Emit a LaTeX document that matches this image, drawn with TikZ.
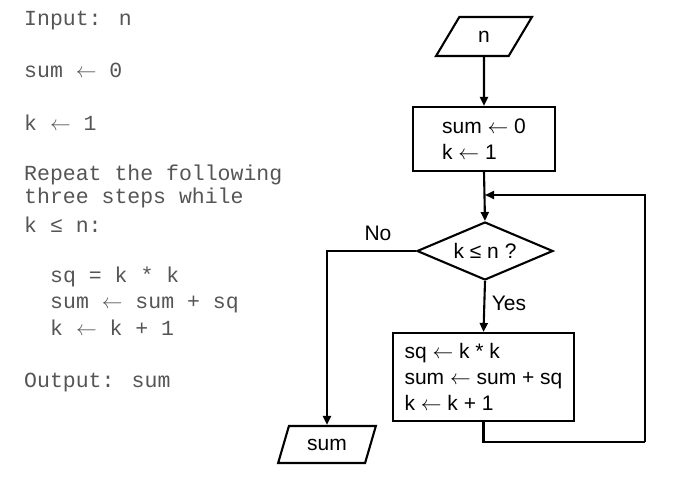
\documentclass[tikz,border=0pt]{standalone}
\usepackage{fontspec}
\setmainfont{Liberation Sans}
\newfontfamily\codefont{Liberation Mono}
\usetikzlibrary{arrows.meta,shapes.geometric}
\definecolor{codegray}{RGB}{85,85,85}
\newcommand{\lar}{$\leftarrow$}
\begin{document}
\begin{tikzpicture}[x=1pt,y=-1pt,
  code/.style={anchor=base west, inner sep=0pt, font=\codefont\fontsize{21.5}{24}\selectfont, text=codegray},
  box/.style={draw, line width=2.1pt, font=\fontsize{21}{26}\selectfont, align=left, inner sep=0pt},
  io/.style={trapezium, trapezium left angle=64, trapezium right angle=116, trapezium stretches=true,
             draw, line width=2.1pt, inner sep=0pt, font=\fontsize{21}{24}\selectfont},
  decision/.style={diamond, aspect=2.34, draw, line width=2.1pt, inner sep=0pt, font=\fontsize{21}{24}\selectfont},
  arr/.style={line width=2.1pt, -{Triangle[length=9pt,width=8pt]}},
  link/.style={line width=2.1pt},
  lbl/.style={font=\fontsize{21}{24}\selectfont, inner sep=0pt, anchor=base}]
\useasboundingbox (0,0) rectangle (690,493);

% pseudo-code
\node[code] (c1) at (24,25) {Input: n};
\node[code] (c2) at (24,77) {sum \lar{} 0};
\node[code] (c3) at (24,130) {k \lar{} 1};
\node[code] (c4) at (24,180) {Repeat the following};
\node[code] (c5) at (24,203) {three steps while};
\node[code] (c6) at (24,232) {k ≤ n:};
\node[code] (c7) at (50,282) {sq = k * k};
\node[code] (c8) at (50,308) {sum \lar{} sum + sq};
\node[code] (c9) at (50,335) {k \lar{} k + 1};
\node[code] (c10) at (24,387) {Output: sum};

% flowchart
\node[io, minimum width=96pt, minimum height=39pt] (in) at (484,36.5) {n};
\node[box, minimum width=142pt, minimum height=64pt] (b1) at (484,139) {sum \lar{} 0\\k \lar{} 1};
\node[decision, minimum width=136pt, minimum height=58pt] (d) at (485,251) {k ≤ n ?};
\node[box, minimum width=181pt, minimum height=88pt] (b2) at (483.5,377) {sq \lar{} k * k\\sum \lar{} sum + sq\\k \lar{} k + 1};
\node[io, minimum width=98pt, minimum height=37pt] (out) at (327,444.5) {sum};

\coordinate (join) at (485,195);
\coordinate (loopR) at (645,442);

\draw[arr] (in.south) -- (b1.north);
\draw[arr] (b1.south) -- (d.north);
\draw[arr] (d.south) -- (b2.north);
\draw[arr] (d.west) -| (out.north);
\draw[link] (b2.south) |- (loopR);
\draw[arr] (loopR) |- (join);

\node[lbl] (no) at (378,240) {No};
\node[lbl] (yes) at (509,310) {Yes};
\end{tikzpicture}
\end{document}
